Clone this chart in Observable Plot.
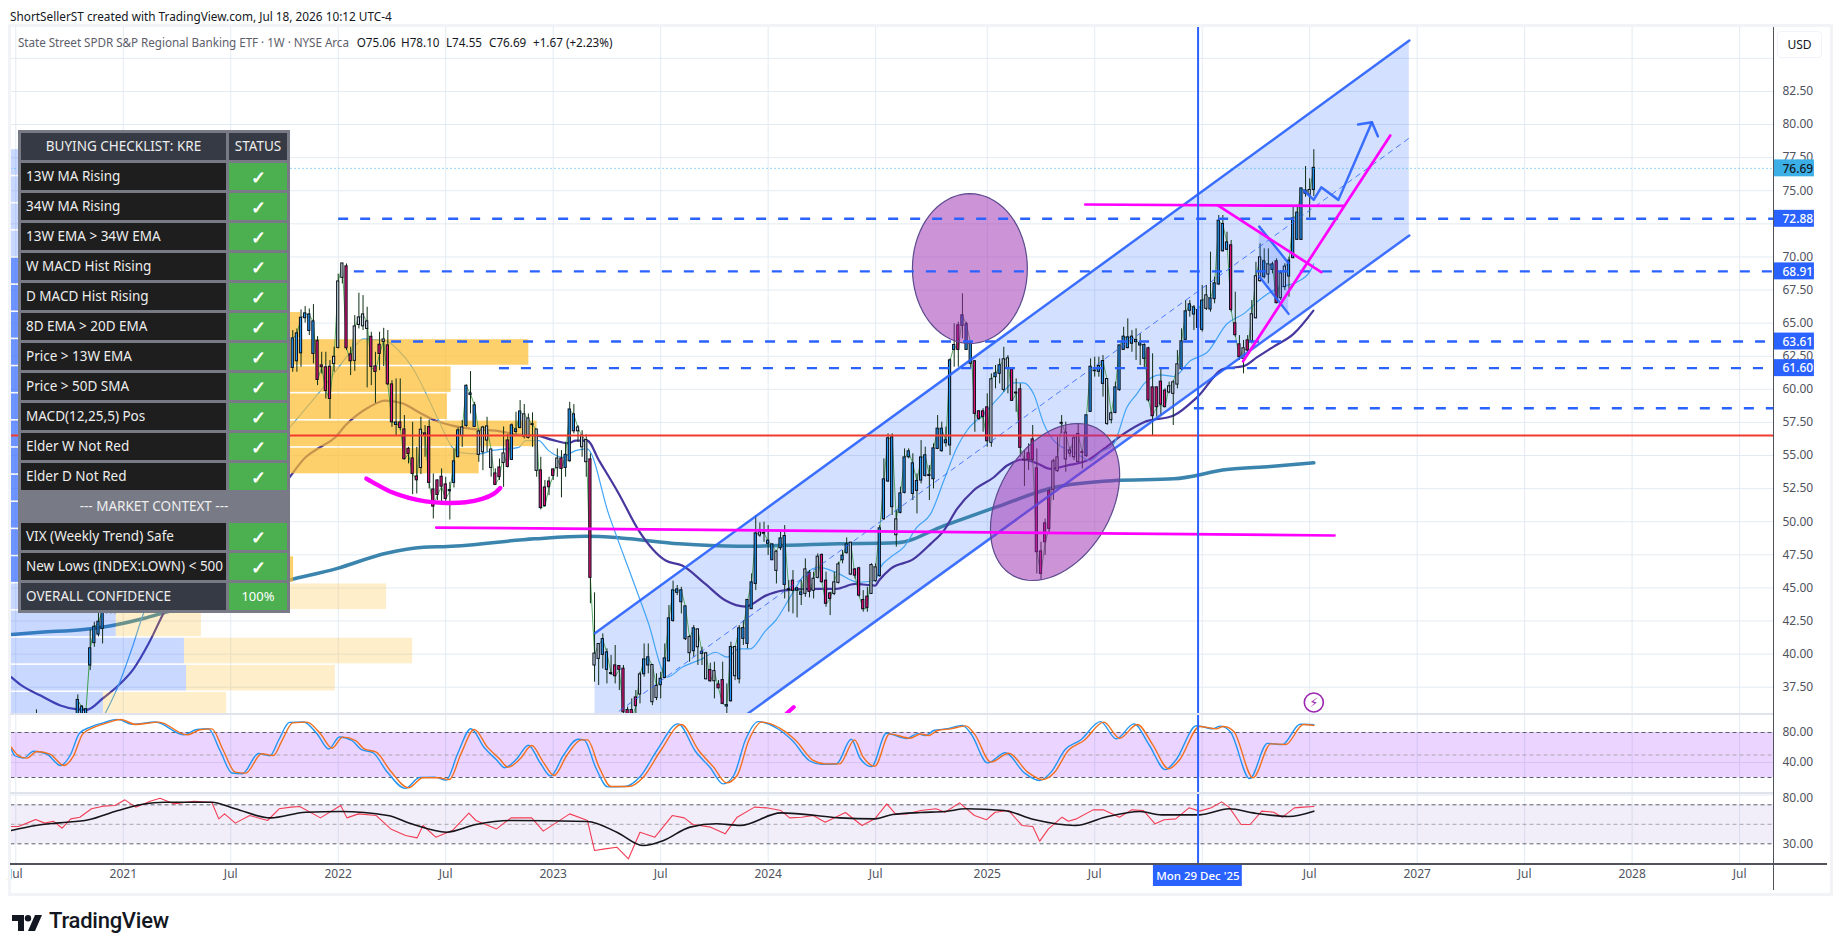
<!DOCTYPE html>
<html><head><meta charset="utf-8">
<script src="https://cdn.jsdelivr.net/npm/d3@7"></script>
<script src="https://cdn.jsdelivr.net/npm/@observablehq/plot@0.6"></script>
<style>
html,body{margin:0;padding:0;background:#fff;overflow:hidden}
#page{position:relative;width:1835px;height:951px;overflow:hidden;font-family:"Noto Sans",sans-serif;color:#131722}
#page>svg,.pane{position:absolute;left:0}
.abs{position:absolute;white-space:nowrap}
#check{position:absolute;left:18px;top:130px;border-collapse:separate;border-spacing:3px;background:#787b86;border:0;width:272px;height:478px;table-layout:fixed}
#check td{padding:0;color:#eee;font-size:13.5px;line-height:1;white-space:nowrap;overflow:hidden}
#check td.l{background:#1e1e1e;padding-left:5px;width:205px}
#check td.s{background:#4caf50;text-align:center;color:#fff;font-size:18px;font-weight:700}
#check tr.h td{background:#363a45;text-align:center;padding:0}
#check tr.h td.s{font-size:13.5px;font-weight:400;background:#363a45;color:#eee}
#check tr.m td{background:#787b86;text-align:center;padding:0}
#check tr.o td.l{background:#363a45}
#check tr.o td.s{font-size:13px;font-weight:400}
</style></head><body><div id="page"></div>
<script>
// ---- weekly candles: first bar is week 67 counted from 6 Jul 2020
const firstCandleWeek = 67;
const candleHighs = [
64.44,64.56,66.0,66.25,66.07,66.4,63.98,62.8,62.8,62.17,
63.18,68.7,69.5,69.47,63.18,65.57,67.26,67.08,66.2,64.31,
62.8,64.31,64.61,64.44,60.66,60.79,60.79,58.02,55.62,57.51,
55.62,57.89,57.26,57.69,53.61,53.16,53.99,53.36,52.98,55.5,
57.08,57.64,60.33,61.34,59.02,56.88,57.21,57.89,55.42,53.99,
54.74,57.16,56.58,57.39,58.27,59.15,58.85,58.14,58.22,56.93,
54.87,53.11,53.36,53.99,55.5,55.37,56.0,59.02,58.85,57.26,
56.88,56.56,55.13,44.63,40.77,41.53,40.4,39.9,40.65,39.14,
39.14,36.0,36.62,37.25,38.63,40.77,40.77,39.2,38.51,38.63,
40.77,43.67,45.51,45.18,45.05,43.59,41.4,42.16,41.91,40.52,
40.14,39.31,39.39,38.0,39.39,37.75,40.9,40.52,42.16,42.53,
44.05,46.06,50.47,49.91,49.96,49.71,48.33,47.82,49.21,49.71,
45.56,46.31,45.05,45.56,47.19,46.31,46.19,47.57,47.57,46.19,
44.67,46.19,46.94,47.82,48.78,48.38,46.44,46.56,44.8,45.05,
46.82,46.82,49.71,54.75,56.64,56.64,50.85,52.61,55.5,55.5,
55.13,53.62,56.13,55.63,54.24,55.88,58.02,57.52,57.14,62.3,
64.95,65.07,67.21,65.07,63.44,62.18,58.4,58.53,59.66,61.17,
61.8,62.3,63.18,62.55,61.62,60.79,60.41,55.38,55.88,57.27,
55.5,48.45,50.2,52.48,54.72,56.38,58.02,57.52,55.63,56.51,
57.4,55.38,58.02,62.3,62.43,62.43,62.55,60.79,58.27,60.54,
63.31,64.69,65.32,64.44,64.57,64.19,63.44,63.18,62.68,60.16,
61.55,60.04,60.54,60.66,62.93,64.57,66.71,66.71,66.33,66.2,
67.84,67.84,70.36,68.47,73.13,73.13,71.87,71.24,67.34,64.06,
63.69,64.06,66.71,69.6,70.99,70.61,70.61,69.6,69.86,68.97,
69.48,69.98,73.76,73.88,75.14,76.83,75.9,78.10];
const candleLows = [
61.29,61.29,61.67,65.0,64.06,61.92,60.28,61.16,59.27,57.76,
61.29,63.05,67.96,62.93,61.04,61.36,64.56,64.44,60.11,60.28,
58.95,61.41,61.72,60.28,57.13,56.5,56.88,54.67,54.37,52.05,
52.1,53.56,54.87,52.48,50.21,51.6,51.29,51.34,50.13,52.55,
54.87,55.62,57.13,58.14,57.13,54.49,53.86,55.25,53.36,52.73,
53.11,52.6,54.06,54.62,56.63,57.01,56.25,56.25,55.62,53.36,
50.89,51.09,51.97,53.11,53.36,51.8,53.36,54.49,56.63,56.0,
54.87,53.36,43.8,37.88,37.63,38.88,37.75,38.38,37.75,37.25,
35.11,34.6,34.8,35.36,36.24,38.26,38.51,36.11,36.49,36.62,
38.13,39.39,42.41,44.42,43.04,41.03,39.39,39.77,39.14,39.14,
38.05,37.88,36.62,37.37,36.19,35.49,36.37,38.0,37.75,40.65,
40.4,43.4,44.8,48.83,48.45,47.45,47.07,45.3,47.82,44.17,
43.17,43.04,42.74,43.67,44.3,44.25,44.17,45.68,45.36,43.54,
42.91,44.42,45.3,46.82,47.57,45.93,45.68,44.3,43.17,43.17,
44.5,45.43,45.81,50.09,52.96,50.47,48.08,50.59,52.1,54.75,
51.6,50.59,52.86,53.37,51.6,52.48,55.45,55.25,55.63,55.0,
61.67,61.67,63.81,62.93,61.55,56.76,57.64,56.76,55.63,55.63,
60.04,60.41,59.79,59.66,59.1,58.27,54.87,52.66,53.87,54.5,
46.06,45.63,47.45,49.21,51.6,53.74,56.64,53.74,54.87,54.62,
54.5,53.99,54.87,58.27,60.92,60.92,59.41,57.27,57.39,58.15,
59.86,62.93,63.06,62.8,62.18,61.8,61.55,59.03,56.51,57.9,
58.02,58.65,59.66,57.27,60.04,61.42,63.69,65.45,64.44,64.49,
64.32,65.95,65.83,66.46,67.84,70.36,70.48,65.83,63.94,62.18,
61.17,62.68,63.43,65.32,68.09,68.34,67.97,68.72,66.46,66.71,
67.46,66.96,69.86,71.24,71.24,74.51,72.95,74.55];
const candleOpens = [
61.62,62.12,62.72,65.37,64.41,62.67,63.63,61.77,61.62,61.67,
61.92,63.13,68.42,69.25,62.6,62.15,64.86,64.76,64.56,63.93,
61.69,63.33,63.58,63.28,60.33,57.31,57.46,56.93,55.47,54.74,
53.38,54.06,56.63,57.11,52.4,53.08,53.36,52.78,52.35,52.93,
54.87,56.48,57.24,59.58,57.16,55.05,55.25,56.13,54.06,53.61,
54.06,54.44,56.10,54.67,56.78,57.08,56.43,56.33,57.3,53.84,
53.84,52.55,53.0,53.91,54.04,54.74,54.06,54.57,56.83,56.83,
55.62,54.5,54.67,39.14,39.64,39.94,38.81,38.5,39.11,39.06,
38.86,35.74,35.74,36.69,36.95,38.48,39.14,36.37,36.69,37.65,
38.2,39.46,42.51,44.63,43.92,41.13,40.07,40.22,40.52,40.02,
38.1,38.76,37.95,37.67,38.0,36.04,36.44,38.33,38.1,41.15,
40.77,43.39,45.3,48.96,49.1,48.33,47.09,46.29,48.0,45.23,
44.84,45.51,44.8,44.47,44.55,46.11,44.78,45.76,47.45,45.51,
44.55,44.55,45.38,47.09,47.62,46.01,46.36,46.44,44.05,44.3,
44.55,45.51,45.89,50.19,53.04,51.1,48.98,50.67,52.18,54.87,
52.1,52.33,53.11,53.46,53.45,53.21,55.5,55.33,55.93,55.76,
62.98,64.8,64.8,62.98,61.93,62.08,58.3,58.3,58.6,55.96,
60.92,61.17,59.96,61.55,61.47,59.72,59.96,54.62,55.13,56.18,
53.99,47.72,49.84,52.26,52.41,53.82,57.4,54.7,55.15,54.87,
54.5,55.2,54.95,58.3,61.37,61.32,60.41,57.39,57.67,58.22,
59.94,62.98,63.11,63.44,63.56,63.31,62.3,63.06,60.11,60.11,
60.54,59.86,59.76,59.66,60.36,61.52,63.74,65.93,65.65,64.64,
64.49,66.08,66.03,66.81,67.92,70.43,70.54,70.84,64.95,63.36,
62.3,63.66,63.64,65.37,68.17,68.47,68.67,69.02,69.63,66.88,
67.72,68.52,69.91,71.29,71.29,74.77,74.7,75.06];
const candleCloses = [
63.81,64.19,65.37,65.7,65.62,65.09,60.71,61.67,59.88,59.27,
62.42,68.11,69.47,63.1,62.12,64.71,65.39,65.62,65.09,61.69,
61.31,62.67,63.73,60.38,57.51,57.46,57.08,54.72,55.12,53.61,
53.13,56.91,56.5,52.93,51.14,52.02,52.65,51.72,52.3,54.52,
56.86,57.08,60.23,59.65,58.75,56.78,57.08,57.16,55.42,52.78,
53.36,55.12,54.14,57.24,56.93,58.29,58.07,57.76,57.33,56.93,
51.04,51.19,52.6,53.46,54.74,53.99,55.02,58.44,58.07,57.08,
56.46,56.13,45.76,40.0,40.72,41.1,40.09,38.53,38.33,38.81,
35.61,35.1,35.1,36.07,38.43,39.56,39.72,39.14,37.55,38.1,
39.64,42.66,44.78,44.85,44.78,43.57,41.25,41.91,41.83,40.14,
40.02,37.95,38.68,37.42,36.24,36.11,40.5,40.5,41.91,41.93,
44.05,45.38,49.08,49.16,49.13,48.53,48.25,47.7,48.7,48.88,
44.87,44.78,44.93,44.62,46.36,44.7,45.66,47.32,45.43,43.8,
44.17,45.38,46.74,47.4,48.25,48.38,45.93,44.42,43.39,43.49,
46.69,46.51,49.46,53.16,56.26,56.34,50.14,52.1,54.82,55.28,
54.37,53.04,54.82,54.98,53.5,55.5,56.99,56.99,56.11,62.15,
63.31,62.98,65.55,64.87,63.44,58.15,57.77,57.92,56.08,60.72,
61.17,61.78,62.23,62.3,59.13,59.68,55.58,54.65,54.67,54.67,
47.7,46.06,48.45,49.46,54.52,54.82,57.43,56.69,55.33,56.26,
56.59,55.2,58.0,61.67,61.37,61.72,62.1,60.74,58.15,60.11,
63.28,63.94,63.89,63.94,63.69,63.44,63.31,59.16,57.97,58.65,
58.85,58.65,60.19,60.49,61.85,63.59,65.85,66.38,66.15,65.95,
66.66,67.06,66.83,67.97,72.7,72.45,71.06,66.0,64.09,62.43,
63.06,62.93,65.63,68.5,69.93,69.63,69.4,69.4,66.51,68.72,
69.23,69.68,72.88,73.31,75.14,74.97,75.02,76.69];
const kindBlocks = ["bbbbbbpppp","wwwppwwwwp","ppwppbpppp","pwppppppbb","bwbbbwwwwp","pwpbbbwwww","ppppwpbbbw","wwpwwbbbpp","ppppwbbwwb","bbbbbbwbwb","wpwppbbwbb","bbbwwbbwbb","bpbbwpwwpp","pwwbbwpppp","wwbbbbwbbb","bbbbbbbbbb","bpbbbppppw","bbwwpppbpp","ppppwwwwww","wwbbbbbwwb","bbbbbbbppp","ppwwwbbbbb","bwbbbbbppp","wpwwwbwbpw","wbbbbbwb"];
// the few bars that show below the table at the left
const earlyWeeks  = [5,15,16,17,18,19,20,21,22,23,24];
const earlyHighs  = [35.79,36.92,36.12,35.87,41.83,42.41,43.17,43.55,44.0,44.0,44.0];
const earlyLows   = [35.0,35.0,35.0,35.0,38.76,40.52,41.3,40.77,43.04,43.04,43.04];
const earlyOpens  = [35.0,35.0,35.0,35.0,39.14,40.83,41.48,41.91,43.5,43.5,43.5];
const earlyCloses = [35.1,36.5,35.99,35.8,40.4,42.03,42.41,43.29,43.8,43.8,43.8];

// ---- moving averages: [week, value]
const ma13 = [[21.5,35.44],[24.6,37.46],[28.2,40.52],[31,43.16],[66,57.01],[75.7,60.66],[80.6,62.67],[84.2,63.81],[87,63.73],[89.4,63.68],[92.6,62.93],[95.9,61.67],[99.1,59.78],[102.3,57.64],[105.6,55.62],[108,55.2],[112,55.12],[115.2,55.37],[121.7,55.62],[123.3,56.13],[126.5,56.13],[128.9,55.37],[132.2,54.87],[135.4,55.37],[138.2,55.5],[143.4,50.59],[149.9,45.05],[153.1,42.28],[156.8,38.51],[157.6,38.26],[161.2,39.01],[166,39.64],[169.3,40.14],[172.1,39.77],[174.9,40.4],[177.7,40.4],[181.4,41.78],[183.8,42.54],[187.8,44.55],[191,46.06],[194.3,46.56],[198.3,46.19],[203.9,45.43],[207.9,45.56],[209.2,46.57],[211.6,47.32],[214.8,48.08],[218,49.59],[221.3,50.59],[224.5,53.11],[227.7,55.63],[230.1,56.89],[234.2,58.15],[238.2,59.53],[241.4,60.49],[243.8,60.49],[246.2,59.66],[248.7,57.39],[251.1,56.13],[256.7,55.13],[259.9,54.62],[262.4,55.25],[265.6,55.88],[268.8,58.65],[271.2,59.66],[272.9,60.41],[276.9,61.09],[280.1,60.97],[284.2,62.18],[288.2,62.8],[293,64.95],[297,65.7],[301.1,66.83],[305.9,67.72],[309.9,68.09],[313.2,68.97],[314,69.48]];
const ma34 = [[-1.1,38.26],[1.1,37.7],[6,36.87],[10.8,36.12],[14.9,35.82],[17.1,35.79],[21.2,36.7],[24.8,37.63],[28.5,38.89],[32.1,40.78],[35.7,43.07],[65.9,53.23],[70.1,54.87],[73.3,55.57],[77.3,56.38],[79.7,57.26],[85.4,58.65],[89.4,59.15],[93.5,58.95],[97.5,58.27],[101.5,57.64],[105.6,57.26],[110.4,57.01],[116,56.88],[121.7,56.58],[126.1,56.5],[129.8,56.18],[133.8,55.93],[135.4,56.13],[138.2,56.13],[141.1,54.62],[145.9,52.1],[150.7,49.33],[157.2,47.07],[161.2,46.69],[166.8,45.3],[171.7,44.05],[176.5,43.59],[181.4,44.42],[185.4,44.8],[191.8,44.93],[198.3,44.93],[203.1,45.3],[207.9,45.18],[208.8,45.56],[211.6,46.44],[217.2,47.19],[221.3,48.33],[224.5,49.33],[227.7,50.97],[231.7,52.36],[236.6,53.36],[239.8,54.25],[243.8,54.7],[247,54.42],[250.3,53.99],[254.3,54.25],[259.1,54.62],[263.2,55.5],[268,56.64],[272.9,57.52],[280.1,58.02],[285.8,59.41],[292.2,61.55],[297,61.75],[300.3,62.43],[304.3,63.23],[309.1,64.19],[313.9,65.95]];
const ma200 = [[-1.1,41.48],[6,41.65],[16.4,41.86],[24.6,42.24],[30.9,42.69],[36.2,43.16],[66.6,45.63],[77.6,46.46],[89.6,47.62],[98.6,48.07],[104.4,48.13],[125.5,48.71],[137.8,48.9],[146.3,48.78],[160.5,48.33],[174.9,48.15],[198.8,48.33],[213.2,48.41],[224.6,49.71],[237.1,51.1],[251.4,52.61],[265.8,53.11],[280.1,53.24],[293,53.94],[303.5,54.17],[314,54.45]];

// ---- volume profile rows
const vpTops    = [78.1,76.05,74.0,71.95,69.9,67.85,65.8,63.75,61.7,59.65,57.6,55.55,53.5,51.45,49.4,47.35,45.3,43.25,41.2,39.15,37.1];
const vpBlueEnd = [20,20,20,20,30,30,30,30,30,30,30,30,30,30,30,30,30,24.3,40.8,41.3,21.2];
const vpGoldEnd = [45,45,50,50,60,60,68.9,124.1,105.3,104.4,126.1,112.1,60,60,60,67.2,89.7,44.9,96,77.3,51];
const vpStrong  = [0,0,0,0,1,1,1,1,1,1,1,1,1,1,1,1,0,0,0,0,0];

// ---- oscillators: [week, value]
const stochD = [[-1.1,60.5],[0.6,49.3],[2.7,45.8],[5.1,54.7],[8.4,50.7],[11.6,36],[14,49.3],[16.2,78.2],[19,87.1],[21.9,92.4],[25.4,97.3],[29,90.7],[34.6,93.8],[41.4,76.9],[44.6,83.6],[47.4,84.9],[50.2,56],[53.1,27.1],[55.6,25.8],[59.5,51.6],[62.3,49.3],[64.4,69.3],[67,92.9],[70.4,93.8],[73.7,78.2],[76.5,59.1],[79.1,73.8],[82.2,69.3],[84.3,58.2],[87.2,53.8],[90.7,28.4],[95,6.2],[98.5,19.6],[102.1,19.6],[104.9,17.3],[107.7,51.6],[110.9,84],[114.1,60.5],[117,44.9],[119.1,33.8],[122,44.9],[124.8,62.7],[127.6,40.5],[130.2,22.7],[133.3,49.3],[136.8,70.2],[138.3,70.2],[141.1,33.8],[144,8],[148.2,8],[151.8,20.4],[156,56],[161,90.7],[165.2,56],[168.8,33.8],[171.9,12.9],[174.5,22.7],[177.3,69.3],[180.4,93.8],[185.1,84.9],[188.7,69.3],[192.9,42.7],[195.8,38.2],[199.3,38.2],[202.9,70.2],[205,47.1],[207.8,35.1],[211.4,78.2],[216.3,72.4],[218.9,78],[220.8,76],[223,82.7],[226.2,84.9],[229.8,88.9],[231.9,78.2],[235.9,40.5],[240.2,52.4],[244.8,27.1],[248.4,17.3],[251.3,27.1],[254.6,56],[258.4,69.3],[263.2,93.8],[267,72.4],[271.3,90.7],[274.9,64.9],[278.9,31.6],[281.4,42.7],[286.4,88],[290.4,84.9],[292.1,88],[294.6,81.8],[299.3,19.6],[303.6,64.9],[307.2,64],[311.5,90.7],[314,89.4]];
const stochK = [[-1.1,58],[-0.2,49],[1.9,46],[4.3,55],[7.6,51],[10.8,36],[13.2,50],[15.4,79],[18.2,87.5],[21.1,92.8],[24.6,97.5],[28.2,91],[33.8,94],[40.6,77],[43.8,84],[46.6,85],[49.4,56],[52.3,26],[54.8,25],[58.7,52],[61.5,49],[63.6,70],[66.2,93.5],[69.6,94],[72.9,78],[75.7,58],[78.3,74],[81.4,69],[83.5,57.5],[86.4,53],[89.9,27],[94.2,5.5],[97.7,20],[101.3,20.5],[104.1,16.5],[106.9,52],[110.1,85],[113.3,60],[116.2,44],[118.3,33],[121.2,45],[124,63],[126.8,40],[129.4,22],[132.5,50],[136,71],[137.5,70],[140.3,33],[143.2,7.5],[147.4,8],[151,21],[155.2,57],[160.2,91.5],[164.4,55],[168,33],[171.1,11.5],[173.7,23],[176.5,70],[179.6,94.5],[184.3,85],[187.9,69],[192.1,42],[195,37.5],[198.5,38],[202.1,71],[204.2,46],[207,34.5],[210.6,79],[215.5,72],[218.1,78.5],[220,76],[222.2,83],[225.4,85],[229,89.5],[231.1,78],[235.1,39.5],[239.4,53],[244,26],[247.6,16],[250.5,27.5],[253.8,57],[257.6,70],[262.4,94.5],[266.2,71.5],[270.5,91.5],[274.1,64],[278.1,30.5],[280.6,43],[285.6,89],[289.6,85],[291.3,88.5],[293.8,81],[298.5,18.5],[302.8,65.5],[306.4,64],[310.7,91],[314,90.5]];
const rsiLine = [[-1.1,47.7],[0.6,47.7],[2.7,51.2],[4.8,54.9],[7,51.2],[9.1,53.2],[11.2,46],[13.3,55.6],[15.5,57.3],[18.3,65.9],[21.1,68.6],[24,69.3],[26.4,75.1],[29,67.6],[32.5,73.7],[34.9,76.8],[38.2,71],[43.1,73.7],[47.4,72.7],[49.1,55.6],[50.5,60.7],[53.1,51.2],[56.6,59],[60.9,53.9],[63.7,65.9],[66.6,67.6],[68.7,68.2],[73.7,56.6],[78.6,69.3],[80.1,56.6],[82.9,60.7],[87.2,59],[90.7,45.3],[94.3,38.5],[97.1,36.1],[98.5,48.8],[101.6,36.8],[105.6,43.6],[109.6,61.4],[111.3,53.9],[116.3,45.3],[119.8,56.6],[124.8,56.6],[127.6,43],[134,60.7],[138.3,53.9],[140,23.1],[142.5,24.8],[145.4,26.5],[148.2,14.6],[151,41.9],[154.6,36.8],[158.8,59],[161.7,56.6],[163.8,49.8],[168.1,47.1],[171.6,40.2],[174.5,57.3],[178.7,67.6],[181.6,66.9],[185.1,64.1],[187.2,56.6],[190.1,57.3],[192.9,59],[195.8,52.2],[200.7,62.1],[204.7,48.8],[207.8,55.6],[210.7,71],[212.8,60.7],[215.6,60.7],[218.9,64.1],[222.6,65.9],[224.8,62.4],[228.3,72],[231.9,59],[234.8,54.6],[236.9,62.4],[240.2,64.1],[243.4,48.8],[246,47.7],[247.7,32.7],[249.8,45.3],[253.1,57.3],[254.6,53.2],[256.6,55.6],[260.6,64.8],[263.2,64.8],[267,57.3],[269.9,64.8],[272.8,64.1],[275.6,50.5],[277.8,54.6],[280.6,55.6],[283.8,66.9],[286.4,63.5],[289.2,66.9],[291.7,73],[293.5,67.6],[296.4,49.8],[298.6,49.8],[301.4,63.5],[304.3,62.4],[306.4,57.3],[309.3,66.9],[311.5,67.6],[314,68.2]];
const rsiMa = [[-1.1,43.6],[4.8,48.8],[10.5,51.5],[17.6,54.6],[24.7,64.1],[30.4,70.3],[36,72.7],[47.4,72.7],[53.1,65.9],[61.6,56.6],[70.1,62.4],[78.6,63.1],[90,59],[95.7,50.5],[104.2,41.9],[111.3,49.8],[119.8,53.9],[138.3,52.9],[145.4,41.9],[151.8,28.2],[156.7,33.4],[163.1,47.1],[169.5,50.5],[175.2,48.8],[185.1,61.7],[193.6,59],[199.3,56.6],[207.8,55.6],[212.1,60],[218.9,62.1],[224.8,63.1],[229.8,65.9],[239.1,64.1],[246.3,54.9],[256.3,48.8],[263.5,57.3],[272,63.1],[277.1,59.7],[286.4,59.7],[293.5,65.9],[299.3,61.7],[307.9,58],[314,63.5]];

// ---- drawings on the chart
const channelWeeks = [140.1,337.1];
const channelUpper = [41.58,86.34];
const channelLower = [27.16,71.62];
const channelMid   = [34.37,78.98];
const levelLines = [[78.1,72.88],[81.9,68.91],[90.9,63.61],[117,61.60],[285.1,58.57]];
const levelTags  = [72.88,68.91,63.61,61.60];
const lastClose = 76.69, supportRed = 56.51;
const cupArc = [[84.8,53.26],[87.4,52.8],[91,52.22],[95.1,51.8],[99.1,51.54],[103.9,51.42],[108.8,51.47],[112.8,51.72],[115.6,52.1],[117.2,52.55]];
const pinkSegments = [
 [[101.7,49.56],[319,48.96]],
 [[258.7,73.96],[321.2,73.85]],
 [[290.8,73.9],[315.8,68.85]],
 [[296.9,62.12],[332.5,79.17]],
 [[186.4,35.5],[188.2,36.0]]];
const projection = [[311.6,75.02],[313.98,74.31],[315.8,75.26],[319.95,74.31],[328.05,80.17]];
const projectionHead = [[324.7,80.0],[328.05,80.17],[329.5,79.11]];
const flagWeeks = [300.8,307.9], flagUpper = [72.3,69.52], flagLower = [68.52,65.7];
const ellipses = [
 {week:230.8,price:69.12,rw:13.9,rp:5.66,tilt:90},
 {week:251.4,price:51.49,rw:15.63,rp:5.93,tilt:110.3}];
const crossWeek = 286, crossLabel = "Mon 29 Dec '25";

// ---- axes
const tickWeeks  = [0,26,52,78,104,130,156,182,208,235,261,287,313,339,365,391,417];
const tickLabels = ["Jul","2021","Jul","2022","Jul","2023","Jul","2024","Jul","2025","Jul","","Jul","2027","Jul","2028","Jul"];
const priceTicks = [37.5,40,42.5,45,47.5,50,52.5,55,57.5,60,62.5,65,67.5,70,72.5,75,77.5,80,82.5,85];
const priceLabelTicks = [37.5,40,42.5,45,47.5,50,52.5,55,57.5,60,62.5,65,67.5,70,75,77.5,80,82.5];
const stochTicks = [40,80];

const checklist = ["13W MA Rising","34W MA Rising","13W EMA > 34W EMA","W MACD Hist Rising","D MACD Hist Rising","8D EMA > 20D EMA","Price > 13W EMA","Price > 50D SMA","MACD(12,25,5) Pos","Elder W Not Red","Elder D Not Red"];
const context = ["VIX (Weekly Trend) Safe","New Lows (INDEX:LOWN) < 500"];

// ---- helpers
const wk = i => new Date(Date.UTC(2020,6,6) + i*7*864e5);
const weekL = -1.16, weekAxis = 425.2, weekTagEnd = 435.1;
const xScale = {type:"utc",domain:[wk(weekL),wk(weekAxis)],range:[10.5,1773]};
const gridColor = "#e3ebf2", blue = "#2962ff", pink = "#ff00ff";
const kinds = kindBlocks.join("");
const kindFill = {b:"#2196f3",w:"#c3d5de",p:"#e6127a"};
const candles = candleHighs.map((h,i)=>({w:firstCandleWeek+i,h,l:candleLows[i],o:candleOpens[i],c:candleCloses[i],k:kinds[i]}));
const early = earlyWeeks.map((w,i)=>({w,h:earlyHighs[i],l:earlyLows[i],o:earlyOpens[i],c:earlyCloses[i],k:"b"}));
const bars = early.concat(candles);
const lx = d=>wk(d[0]), ly = d=>d[1];
const fmt = d=>d.toFixed(2);
const tickDates = tickWeeks.map(wk);
const labelAt = new Map(tickDates.map((d,i)=>[+d,tickLabels[i]]));
const page = document.getElementById("page");
const ellipsePts = e => d3.range(0,73).map(i=>{const t=i/72*2*Math.PI;return [e.week+e.rw*Math.cos(t), e.price-e.rp*Math.cos(t-e.tilt*Math.PI/180)];});
const commonStyle = {background:"transparent",overflow:"visible",fontFamily:'"Noto Sans",sans-serif'};

const tags = levelTags.map(v=>({v,fill:blue,text:"#fff"})).concat([{v:lastClose,fill:"#3cb0e6",text:"#131722"}]);
const tagH = 0.64;

// ---- main price pane
const main = Plot.plot({
  width:1835,height:687,marginTop:0,marginBottom:0,marginLeft:10.5,marginRight:62,
  x:{...xScale,axis:null},
  y:{domain:[35.44,87.33],range:[687,0],axis:null},
  style:commonStyle,
  marks:[
    Plot.ruleY(priceTicks,{stroke:gridColor,strokeWidth:1}),
    Plot.ruleX(tickDates,{stroke:gridColor,strokeWidth:1}),
    Plot.areaY(channelWeeks.map((w,i)=>({w,a:channelUpper[i],b:channelLower[i]})),{x:d=>wk(d.w),y1:"b",y2:"a",fill:blue,fillOpacity:.2,clip:true}),
    Plot.line(ma200,{x:lx,y:ly,stroke:"#3a84ad",strokeWidth:3.5,curve:"monotone-x",clip:true}),
    Plot.line(ma34,{x:lx,y:ly,stroke:"#46379e",strokeWidth:2.2,curve:"monotone-x",clip:true}),
    Plot.line(ma13,{x:lx,y:ly,stroke:"#42a5f5",strokeWidth:1.2,curve:"monotone-x",clip:true}),
    // volume profile
    Plot.rect(vpTops.map((t,i)=>({t,e:vpBlueEnd[i],s:vpStrong[i]})),{x1:()=>wk(weekL),x2:d=>wk(d.e),y1:d=>d.t-1.93,y2:d=>d.t,fill:blue,fillOpacity:d=>d.s?.68:.25,clip:true}),
    Plot.rect(vpTops.map((t,i)=>({t,b:vpBlueEnd[i],e:vpGoldEnd[i],s:vpStrong[i]})),{x1:d=>wk(d.b),x2:d=>wk(d.e),y1:d=>d.t-1.93,y2:d=>d.t,fill:"#fdbc2c",fillOpacity:d=>d.s?.7:.25,clip:true}),
    // candles
    Plot.line(candles,{x:d=>wk(d.w),y:"c",stroke:"#3f9e4b",strokeWidth:1,strokeOpacity:.85,clip:true}),
    Plot.line(early.slice(1),{x:d=>wk(d.w),y:"c",stroke:"#3f9e4b",strokeWidth:1,clip:true}),
    Plot.ruleX(bars,{x:d=>wk(d.w),y1:"l",y2:"h",stroke:"#0e2f14",strokeWidth:1,clip:true}),
    Plot.rect(bars,{x1:d=>wk(d.w-.27),x2:d=>wk(d.w+.27),y1:d=>Math.min(d.o,d.c),y2:d=>Math.max(d.o,d.c)+0.04,fill:d=>kindFill[d.k],stroke:"#0a0f1a",strokeWidth:1,clip:true}),
    // drawings
    Plot.line(channelWeeks.map((w,i)=>[w,channelMid[i]]),{x:lx,y:ly,stroke:blue,strokeWidth:1,strokeDasharray:"5,5",strokeOpacity:.8,clip:true}),
    Plot.line(channelWeeks.map((w,i)=>[w,channelUpper[i]]),{x:lx,y:ly,stroke:blue,strokeOpacity:.9,strokeWidth:2.5,clip:true}),
    Plot.line(channelWeeks.map((w,i)=>[w,channelLower[i]]),{x:lx,y:ly,stroke:blue,strokeOpacity:.9,strokeWidth:2.5,clip:true}),
    Plot.ruleY([supportRed],{stroke:"#f23a2f",strokeWidth:2}),
    ...ellipses.map(e=>Plot.line(ellipsePts(e),{x:lx,y:ly,fill:"#9c27b0",fillOpacity:.5,stroke:"#5a4a8e",strokeWidth:1.2,clip:true})),
    Plot.ruleY([lastClose],{stroke:"#29b6f6",strokeWidth:1,strokeDasharray:"1,3"}),
    Plot.ruleY(levelLines,{x1:d=>wk(d[0]),x2:()=>wk(weekAxis),y:ly,stroke:blue,strokeWidth:2.4,strokeDasharray:"10,12"}),
    // flag
    Plot.areaY(flagWeeks.map((w,i)=>({w,a:flagUpper[i],b:flagLower[i]})),{x:d=>wk(d.w),y1:"b",y2:"a",fill:blue,fillOpacity:.18}),
    Plot.line(flagWeeks.map((w,i)=>[w,flagUpper[i]]),{x:lx,y:ly,stroke:blue,strokeOpacity:.9,strokeWidth:2.4}),
    Plot.line(flagWeeks.map((w,i)=>[w,flagLower[i]]),{x:lx,y:ly,stroke:blue,strokeOpacity:.9,strokeWidth:2.4}),
    // pink work
    Plot.line(cupArc,{x:lx,y:ly,stroke:pink,strokeWidth:4.4,curve:"catmull-rom"}),
    ...pinkSegments.map((s,i)=>Plot.line(s,{x:lx,y:ly,stroke:pink,strokeWidth:i==4?4:2.7,clip:true})),
    // projection
    Plot.line(projection,{x:lx,y:ly,stroke:blue,strokeOpacity:.9,strokeWidth:2.5}),
    Plot.line(projectionHead,{x:lx,y:ly,stroke:blue,strokeOpacity:.9,strokeWidth:2.5}),
    // event marker
    Plot.dot([[314,36.35]],{x:lx,y:ly,r:9.5,stroke:"#9c27b0",strokeWidth:1.6,fill:"#fff"}),
    Plot.text([[314,36.35]],{x:lx,y:ly,text:()=>"⚡",fill:"#9c27b0",fontSize:13,fontWeight:700,fontFamily:"DejaVu Sans"}),
    Plot.ruleX([wk(crossWeek)],{stroke:blue,strokeWidth:2}),
    // price axis
    Plot.axisY(priceLabelTicks,{anchor:"right",tickSize:0,tickPadding:9,tickFormat:fmt,label:null,fontSize:12,color:"#50535e"}),
    Plot.rect(tags,{x1:()=>wk(weekAxis),x2:()=>wk(weekTagEnd),y1:d=>d.v-tagH,y2:d=>d.v+tagH,fill:"fill"}),
    Plot.text(tags,{x:()=>wk(weekAxis),y:"v",dx:9,dy:0.5,text:d=>fmt(d.v),textAnchor:"start",fill:"text",fontSize:12,fontWeight:500})
  ]
});
main.style.top="27px"; page.appendChild(main);

// ---- stochastic pane
const stoch = Plot.plot({
  width:1835,height:79,marginTop:0,marginBottom:0,marginLeft:10.5,marginRight:62,
  x:{...xScale,axis:null},
  y:{domain:[-1.33,104],range:[79,0],axis:null},
  style:commonStyle,
  marks:[
    Plot.ruleX(tickDates,{stroke:gridColor,strokeWidth:1}),
    Plot.rect([0],{x1:()=>wk(weekL),x2:()=>wk(weekAxis),y1:()=>20,y2:()=>80,fill:"#9c27ff",fillOpacity:.2}),
    Plot.ruleY([40],{stroke:"#d6c2f4",strokeWidth:1}),
    Plot.ruleY([80,20],{stroke:"#5d606b",strokeWidth:1,strokeDasharray:"4,3"}),
    Plot.ruleY([50],{stroke:"#a9a6ad",strokeWidth:1,strokeDasharray:"4,3"}),
    Plot.line(stochK,{x:lx,y:ly,stroke:"#2196f3",strokeWidth:1.4,curve:"monotone-x",clip:true}),
    Plot.line(stochD,{x:lx,y:ly,stroke:"#f2701d",strokeWidth:1.4,curve:"monotone-x",clip:true}),
    Plot.ruleX([wk(crossWeek)],{stroke:blue,strokeWidth:2}),
    Plot.axisY(stochTicks,{anchor:"right",tickSize:0,tickPadding:9,tickFormat:fmt,label:null,fontSize:12,color:"#50535e"})
  ]
});
stoch.style.top="714px"; page.appendChild(stoch);

// ---- RSI pane with the time axis
const rsiTop = 81.6, rsiBottom = 8.77, rsiUnit = 71/(rsiTop-rsiBottom);
const rsi = Plot.plot({
  width:1835,height:97,marginTop:0,marginBottom:26,marginLeft:10.5,marginRight:62,
  x:{...xScale,axis:null},
  y:{domain:[rsiBottom,rsiTop],range:[71,0],axis:null},
  style:commonStyle,
  marks:[
    Plot.ruleX(tickDates,{y1:rsiBottom,y2:rsiTop,stroke:gridColor,strokeWidth:1}),
    Plot.ruleY([80],{stroke:gridColor,strokeWidth:1}),
    Plot.rect([0],{x1:()=>wk(weekL),x2:()=>wk(weekAxis),y1:()=>30,y2:()=>70,fill:"#7e57c2",fillOpacity:.1}),
    Plot.ruleY([70,30],{stroke:"#5d606b",strokeWidth:1,strokeDasharray:"4,3"}),
    Plot.ruleY([50],{stroke:"#a9a6ad",strokeWidth:1,strokeDasharray:"4,3"}),
    Plot.line(rsiLine,{x:lx,y:ly,stroke:"#f23d55",strokeWidth:1.1,clip:true}),
    Plot.line(rsiMa,{x:lx,y:ly,stroke:"#15151a",strokeWidth:1.6,curve:"monotone-x",clip:true}),
    Plot.ruleX([wk(crossWeek)],{y1:rsiBottom,y2:rsiTop,stroke:blue,strokeWidth:2}),
    Plot.text([30],{x:()=>wk(weekAxis),y:d=>d,dx:9,text:fmt,textAnchor:"start",fontSize:12,fill:"#50535e"}),
    Plot.text([80],{x:()=>wk(weekAxis),y:d=>d,dx:9,dy:3,text:fmt,textAnchor:"start",fontSize:12,fill:"#50535e"}),
    Plot.axisX(tickDates,{anchor:"bottom",tickSize:0,tickPadding:5,tickFormat:d=>labelAt.get(+d),label:null,fontSize:12,color:"#50535e"}),
    Plot.rect([0],{x1:()=>wk(275.2),x2:()=>wk(296.7),y1:()=>rsiBottom,y2:()=>rsiBottom-22/rsiUnit,fill:blue}),
    Plot.text([crossLabel],{x:()=>wk(crossWeek-.05),y:()=>rsiBottom-12/rsiUnit,text:d=>d,fill:"#fff",fontSize:11.5,fontWeight:500})
  ]
});
rsi.style.top="793px"; page.appendChild(rsi);

// ---- chrome
function el(css,html){const d=document.createElement("div");d.className="abs";d.style.cssText+=css;if(html!=null)d.innerHTML=html;page.appendChild(d);return d;}
el("left:8px;top:24px;width:1819px;height:866px;border:3px solid #f1f3f6;");
el("left:10px;top:713px;width:1763px;height:2px;background:#e0e3eb;");
el("left:10px;top:792px;width:1763px;height:2px;background:#e0e3eb;");
el("left:10px;top:863px;width:1817px;height:2px;background:#50535e;");
el("left:1773px;top:27px;width:1px;height:863px;background:#50535e;");
el("left:10px;top:8px;font-size:11.8px;color:#131722;","ShortSellerST created with TradingView.com, Jul 18, 2026 10:12 UTC-4");
el("left:18px;top:34px;font-size:11.7px;letter-spacing:-.05px;color:#5d606b;","State Street SPDR S&amp;P Regional Banking ETF · 1W · NYSE Arca");
[["O75.06",356.7],["H78.10",401],["L74.55",446],["C76.69",489],["+1.67 (+2.23%)",533]].forEach(([t,x])=>el(`left:${x}px;top:34px;font-size:11.7px;color:#131722;`,t));
el("left:1777px;top:31px;width:43px;height:25px;background:#fff;border:1px solid #f0f3fa;border-radius:4px;text-align:center;line-height:25px;font-size:12px;color:#131722;","USD");

// checklist table
const tb=document.createElement("table");tb.id="check";
const row=(cls,a,b)=>`<tr class="${cls}" style="height:27px"><td class="l">${a}</td><td class="s">${b}</td></tr>`;
tb.innerHTML=row("h","BUYING CHECKLIST: KRE","STATUS")
 +checklist.map(t=>row("",t.replace(/>/g,"&gt;"),"✓")).join("")
 +`<tr class="m" style="height:27px"><td colspan="2">--- MARKET CONTEXT ---</td></tr>`
 +context.map(t=>row("",t.replace(/</g,"&lt;"),"✓")).join("")
 +row("o","OVERALL CONFIDENCE","100%");
page.appendChild(tb);

// logo
el("left:12px;top:914px;width:30px;height:16px;",'<svg width="30" height="16" viewBox="0 0 30 16"><path d="M0 0h12v16H6V6H0z" fill="#131722"/><circle cx="16" cy="3.2" r="3.2" fill="#131722"/><path d="M23 0h7l-7 16h-7z" fill="#131722"/></svg>');
el("left:49px;top:908px;font-size:22px;font-weight:500;font-family:Roboto,sans-serif;letter-spacing:-.25px;color:#131722;","TradingView");
</script></body></html>
